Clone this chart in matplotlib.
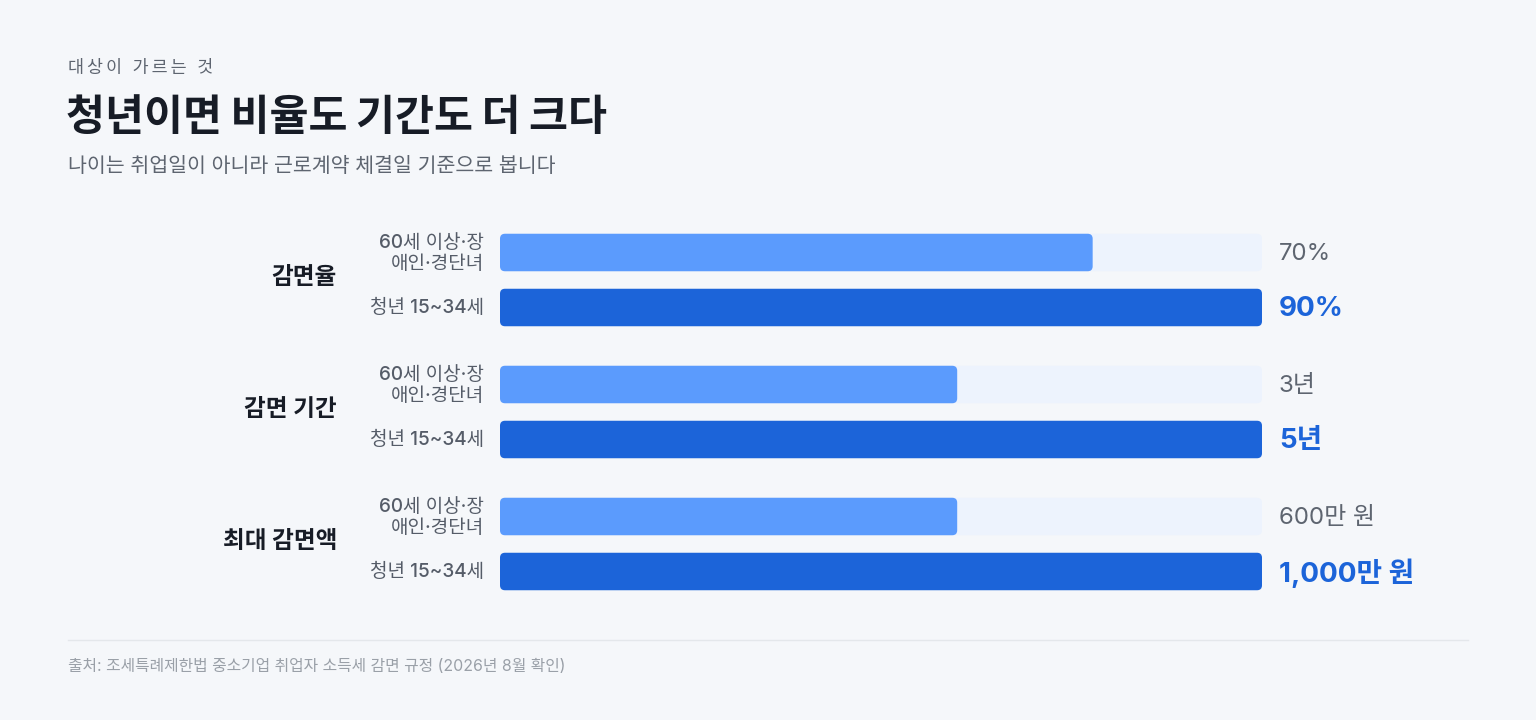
import matplotlib
matplotlib.use("Agg")
import matplotlib.pyplot as plt
from matplotlib.patches import FancyBboxPatch

plt.rcParams['font.family'] = ['Inter', 'Noto Sans CJK KR', 'DejaVu Sans']

# ---- data ----
eyebrow = "대상이 가르는 것"
title = "청년이면 비율도 기간도 더 크다"
subtitle = "나이는 취업일이 아니라 근로계약 체결일 기준으로 봅니다"
source = "출처: 조세특례제한법 중소기업 취업자 소득세 감면 규정 (2026년 8월 확인)"

categories = ["감면율", "감면 기간", "최대 감면액"]
group_labels = ["60세 이상·장\n애인·경단녀", "청년 15~34세"]
general_values = [70, 3, 600]
youth_values = [90, 5, 1000]
general_texts = ["70%", "3년", "600만 원"]
youth_texts = ["90%", "5년", "1,000만 원"]

# ---- style ----
BG = "#F5F7FA"
TRACK = "#EDF3FD"
LIGHT = "#5B9BFD"
DARK = "#1C64D9"
INK = "#171C26"
GREY = "#5E6570"
LABEL = "#555C68"
MUTED = "#9AA0A8"

W, H = 1536, 720
fig = plt.figure(figsize=(W / 100, H / 100), dpi=100, facecolor=BG)
ax0 = fig.add_axes([0, 0, 1, 1])
ax0.set_xlim(0, W)
ax0.set_ylim(H, 0)
ax0.axis("off")
ax0.set_facecolor(BG)

ax0.text(68, 69, "\u2009".join(eyebrow), fontsize=12.5, color=GREY, va="center", ha="left",
         fontweight="medium")
ax0.text(66, 118, title, fontsize=30.5, color=INK, va="center", ha="left", fontweight=900)
ax0.text(68, 166, subtitle, fontsize=14.8, color=GREY, va="center", ha="left")
ax0.plot([68, 1468], [640, 640], color="#E4E7EB", lw=1)
ax0.text(68, 666, source, fontsize=11.4, color=MUTED, va="center", ha="left")

# bar axes (y in pixel-like units)
bx0, bx1 = 500, 1262
y_top, y_bot = 232, 592
ax = fig.add_axes([bx0 / W, (H - y_bot) / H, (bx1 - bx0) / W, (y_bot - y_top) / H])
ax.set_xlim(0, 1)
ax.set_ylim(y_bot, y_top)
ax.axis("off")

bar_h = 37.5
group_gap = 132
first_center = 252.5
pair_gap = 55
rad = 5
aspect = rad / (rad / (bx1 - bx0))

def rbar(yc, frac, color):
    p = FancyBboxPatch((0, yc - bar_h / 2), frac, bar_h,
                       boxstyle=f"round,pad=0,rounding_size={rad / (bx1 - bx0)}",
                       mutation_aspect=aspect, facecolor=color, edgecolor="none")
    ax.add_patch(p)

for i, cat in enumerate(categories):
    mx = max(general_values[i], youth_values[i])
    yc1 = first_center + i * group_gap
    yc2 = yc1 + pair_gap
    rbar(yc1, 1.0, TRACK)
    rbar(yc1, general_values[i] / mx, LIGHT)
    rbar(yc2, youth_values[i] / mx, DARK)

    ax0.text(337, (yc1 + yc2) / 2 - 2, cat, fontsize=17, fontweight="bold", color=INK,
             ha="right", va="center")
    ax0.text(484, yc1 + 1, group_labels[0], fontsize=13.7, color=LABEL, ha="right", va="center",
             linespacing=1.25, fontweight="medium")
    ax0.text(484, yc2, group_labels[1], fontsize=13.7, color=LABEL, ha="right", va="center",
             fontweight="medium")
    ax0.text(1279, yc1 + 2, general_texts[i], fontsize=17.3, color=GREY, ha="left", va="center")
    ax0.text(1279, yc2 + 2, youth_texts[i], fontsize=20, color=DARK, ha="left", va="center",
             fontweight="bold")

fig.savefig("out.png", dpi=100, facecolor=BG)
